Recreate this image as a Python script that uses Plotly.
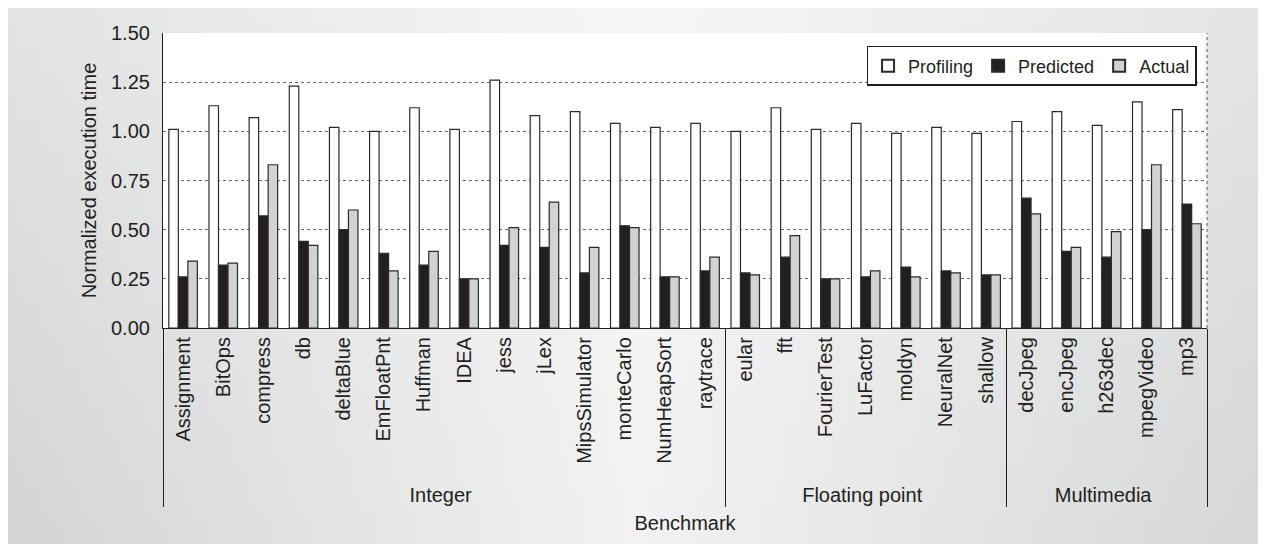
import base64
import plotly.graph_objects as go

# ---------------- data ----------------
benchmarks = ["Assignment", "BitOps", "compress", "db", "deltaBlue", "EmFloatPnt",
              "Huffman", "IDEA", "jess", "jLex", "MipsSimulator", "monteCarlo",
              "NumHeapSort", "raytrace",
              "eular", "fft", "FourierTest", "LuFactor", "moldyn", "NeuralNet", "shallow",
              "decJpeg", "encJpeg", "h263dec", "mpegVideo", "mp3"]
groups = (["Integer"] * 14) + (["Floating point"] * 7) + (["Multimedia"] * 5)

profiling = [1.01, 1.13, 1.07, 1.23, 1.02, 1.00, 1.12, 1.01, 1.26, 1.08, 1.10, 1.04, 1.02, 1.04,
             1.00, 1.12, 1.01, 1.04, 0.99, 1.02, 0.99,
             1.05, 1.10, 1.03, 1.15, 1.11]
predicted = [0.26, 0.32, 0.57, 0.44, 0.50, 0.38, 0.32, 0.25, 0.42, 0.41, 0.28, 0.52, 0.26, 0.29,
             0.28, 0.36, 0.25, 0.26, 0.31, 0.29, 0.27,
             0.66, 0.39, 0.36, 0.50, 0.63]
actual = [0.34, 0.33, 0.83, 0.42, 0.60, 0.29, 0.39, 0.25, 0.51, 0.64, 0.41, 0.51, 0.26, 0.36,
          0.27, 0.47, 0.25, 0.29, 0.26, 0.28, 0.27,
          0.58, 0.41, 0.49, 0.83, 0.53]

series_names = ["Profiling", "Predicted", "Actual"]
y_ticks = [0.0, 0.25, 0.5, 0.75, 1.0, 1.25, 1.5]

# ---------------- style ----------------
OFF = 8  # page body margin
W, H = 1266 - OFF, 544 - OFF
L, R, T = 163 - OFF, 59, 33 - OFF
PH = 295
B = H - T - PH
PW = W - L - R
FONT = "Liberation Sans, Arial, Helvetica, sans-serif"
INK = "#231f20"
EDGE = "#2a2a2a"

x_multi = [groups, benchmarks]

fig = go.Figure()
fig.add_trace(go.Bar(name=series_names[0], x=x_multi, y=profiling,
                     marker=dict(color="#ffffff", line=dict(color=EDGE, width=1.2))))
fig.add_trace(go.Bar(name=series_names[1], x=x_multi, y=predicted,
                     marker=dict(color=INK, line=dict(color=EDGE, width=1.2))))
fig.add_trace(go.Bar(name=series_names[2], x=x_multi, y=actual,
                     marker=dict(color="#d1d2d4", line=dict(color=EDGE, width=1.2))))

# background gradient (as an inline svg image)
svg = f'''<svg xmlns="http://www.w3.org/2000/svg" width="{W}" height="{H}" viewBox="0 0 {W} {H}" preserveAspectRatio="none">
<defs><linearGradient id="g" x1="0" y1="0" x2="1" y2="0">
<stop offset="0" stop-color="#d3d4d6"/><stop offset="0.5" stop-color="#f2f2f2"/>
<stop offset="1" stop-color="#d5d6d7"/></linearGradient>
<linearGradient id="v" x1="0" y1="0" x2="0" y2="1">
<stop offset="0" stop-color="#ffffff" stop-opacity="0.35"/><stop offset="1" stop-color="#ffffff" stop-opacity="0"/>
</linearGradient></defs>
<rect x="0" y="0" width="{W}" height="{H}" fill="url(#g)"/>
<rect x="0" y="0" width="{W}" height="{H}" fill="url(#v)"/>
</svg>'''
uri = "data:image/svg+xml;base64," + base64.b64encode(svg.encode()).decode()
fig.add_layout_image(source=uri, xref="paper", yref="paper",
                     x=-L / PW, y=1 + T / PH, sizex=W / PW, sizey=H / PH,
                     xanchor="left", yanchor="top", sizing="stretch", layer="below")

# white plot area over the gradient
fig.add_shape(type="rect", xref="paper", yref="paper", x0=0, x1=1, y0=0, y1=1,
              fillcolor="#ffffff", line=dict(width=0), layer="below")
# dotted right border
fig.add_shape(type="line", xref="paper", yref="paper", x0=1, x1=1, y0=0, y1=1,
              line=dict(color="#555555", width=1, dash="dot"), layer="above")

fig.update_layout(
    width=W, height=H,
    margin=dict(l=L, r=R, t=T, b=B),
    paper_bgcolor="#d5d6d7",
    plot_bgcolor="#ffffff",
    barmode="group", bargap=0.29, bargroupgap=0,
    font=dict(family=FONT, color=INK, size=20),
    legend=dict(orientation="h", x=0.99, xanchor="right", y=0.956, yanchor="top",
                bgcolor="#ffffff", bordercolor=INK, borderwidth=1.5,
                font=dict(size=18, color=INK), itemsizing="constant",
                traceorder="normal"),
    showlegend=True,
)

fig.update_xaxes(
    type="multicategory", automargin=False,
    showline=True, linecolor=INK, linewidth=1.2,
    showgrid=False, ticks="", tickangle=-90,
    tickfont=dict(size=20, color=INK),
    showdividers=True, dividercolor=INK, dividerwidth=1.2,
    title=dict(text="Benchmark", font=dict(size=20, color=INK), standoff=10),
)
fig.update_yaxes(
    range=[0, 1.5], tickvals=y_ticks, tickformat=".2f", automargin=False,
    showline=True, linecolor=INK, linewidth=1.2,
    showgrid=True, gridcolor="#666666", gridwidth=1, griddash="dot",
    zeroline=False, ticks="", ticklabelstandoff=8,
    tickfont=dict(size=20, color=INK),
    title=dict(text="Normalized execution time", font=dict(size=20, color=INK), standoff=8),
)

fig.write_html("out.html")
